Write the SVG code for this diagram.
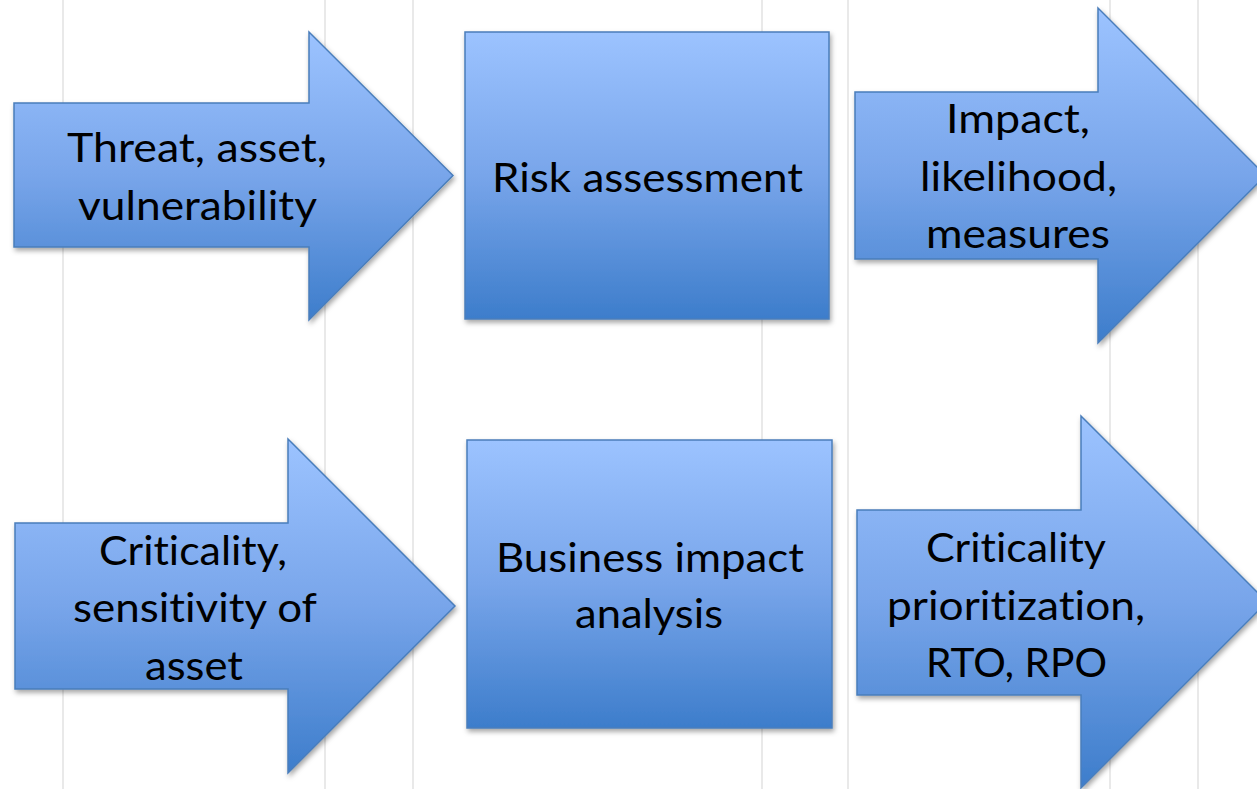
<svg xmlns="http://www.w3.org/2000/svg" width="1257" height="789" viewBox="0 0 1257 789">
<defs>
<linearGradient id="g" x1="0" y1="0" x2="0" y2="1">
<stop offset="0" stop-color="#9cc3ff"/>
<stop offset="0.5" stop-color="#78a5ea"/>
<stop offset="1" stop-color="#3d7dcb"/>
</linearGradient>
<filter id="sh" x="-10%" y="-10%" width="125%" height="125%">
<feDropShadow dx="1.5" dy="3" stdDeviation="2.5" flood-color="#000" flood-opacity="0.35"/>
</filter>
</defs>
<style>
.grid{stroke:#e9e9e9;stroke-width:2}
.shape{fill:url(#g);stroke:#4a7ebb;stroke-width:1.5;filter:url(#sh)}
text{font-family:Lato,"Open Sans","Liberation Sans",sans-serif;font-size:40px;fill:#000;text-anchor:middle;font-variant-ligatures:none;font-feature-settings:"liga" 0,"dlig" 0}
</style>
<rect width="1257" height="789" fill="#fff"/>
<g id="grid">
<line class="grid" x1="63" y1="0" x2="63" y2="789"/>
<line class="grid" x1="325" y1="0" x2="325" y2="789"/>
<line class="grid" x1="413" y1="0" x2="413" y2="789"/>
<line class="grid" x1="762" y1="0" x2="762" y2="789"/>
<line class="grid" x1="848" y1="0" x2="848" y2="789"/>
<line class="grid" x1="1110" y1="0" x2="1110" y2="789"/>
<line class="grid" x1="1198" y1="0" x2="1198" y2="789"/>
</g>
<g id="connectors"></g>
<g id="arrow-threat">
<path class="shape" d="M14,103 H309 V32 L453,175.5 L309,320 V247 H14 Z"/>
<text x="197" y="162" textLength="260" lengthAdjust="spacingAndGlyphs">Threat, asset,</text>
<text x="197.5" y="220" textLength="239" lengthAdjust="spacingAndGlyphs">vulnerability</text>
</g>
<g id="box-risk">
<rect class="shape" x="465" y="32" width="364" height="287"/>
<text x="647.5" y="192" textLength="311" lengthAdjust="spacingAndGlyphs">Risk assessment</text>
</g>
<g id="arrow-impact">
<path class="shape" d="M855,92 H1098 V8 L1265.5,175.5 L1098,343 V259 H855 Z"/>
<text x="1018" y="133" textLength="144" lengthAdjust="spacingAndGlyphs">Impact,</text>
<text x="1018.5" y="191" textLength="197" lengthAdjust="spacingAndGlyphs">likelihood,</text>
<text x="1018" y="248" textLength="184" lengthAdjust="spacingAndGlyphs">measures</text>
</g>
<g id="arrow-criticality">
<path class="shape" d="M15,523 H288 V439 L455,606 L288,773 V689 H15 Z"/>
<text x="193" y="565" textLength="188" lengthAdjust="spacingAndGlyphs">Criticality,</text>
<text x="195" y="622" textLength="244" lengthAdjust="spacingAndGlyphs">sensitivity of</text>
<text x="194" y="680" textLength="98" lengthAdjust="spacingAndGlyphs">asset</text>
</g>
<g id="box-bia">
<rect class="shape" x="467" y="440" width="365" height="288"/>
<text x="650" y="572" textLength="308" lengthAdjust="spacingAndGlyphs">Business impact</text>
<text x="649" y="628" textLength="148" lengthAdjust="spacingAndGlyphs">analysis</text>
</g>
<g id="arrow-rto">
<path class="shape" d="M857,510 H1081 V416 L1267,602 L1081,788 V695 H857 Z"/>
<text x="1016" y="562" textLength="180" lengthAdjust="spacingAndGlyphs">Criticality</text>
<text x="1016" y="620" textLength="258" lengthAdjust="spacingAndGlyphs">prioritization,</text>
<text x="1016.5" y="677" textLength="181" lengthAdjust="spacingAndGlyphs">RTO, RPO</text>
</g>
</svg>
